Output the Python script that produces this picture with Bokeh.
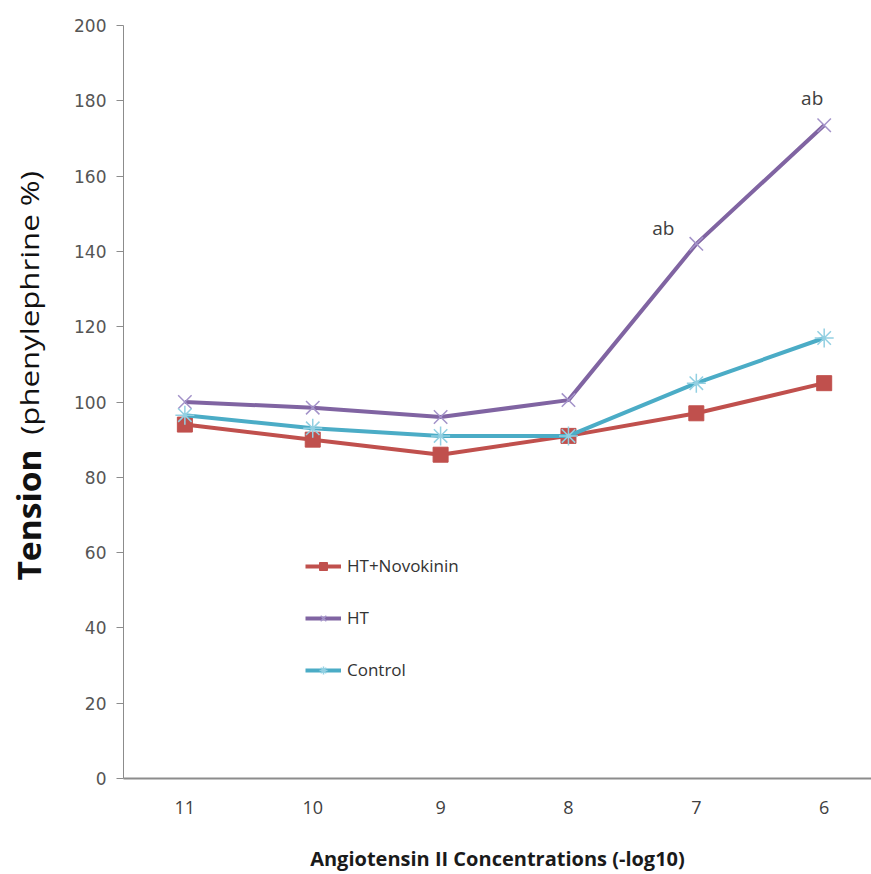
from bokeh.plotting import figure
from bokeh.models import Range1d, FixedTicker, Legend, LegendItem, ColumnDataSource, Div
from bokeh.layouts import row
from bokeh.core.properties import value
from bokeh.embed import file_html
from bokeh.resources import INLINE

concentrations = ["11", "10", "9", "8", "7", "6"]
ht_novokinin = [94, 90, 86, 91, 97, 105]
ht = [100, 98.5, 96, 100.5, 142, 173.5]
control = [96.5, 93, 91, 91, 105, 117]
annot_idx = [4, 5]
annot_text = ["ab", "ab"]
y_title_bold = "Tension"
y_title_rest = "(phenylephrine %)"

xs = list(range(len(concentrations)))
LEFT_W = 58

p = figure(width=871 - LEFT_W, height=874, output_backend="svg", toolbar_location=None,
           x_range=Range1d(-0.48, 5.37), y_range=Range1d(0, 200),
           min_border_left=123 - LEFT_W, min_border_right=0, min_border_top=25, min_border_bottom=94)
p.outline_line_color = None
p.xgrid.grid_line_color = None
p.ygrid.grid_line_color = None
p.background_fill_color = "white"

# axes
p.yaxis.ticker = FixedTicker(ticks=list(range(0, 201, 20)))
p.yaxis.axis_line_color = "#8c8c8c"
p.yaxis.major_tick_line_color = "#8c8c8c"
p.yaxis.major_tick_out = 7
p.yaxis.major_tick_in = 0
p.yaxis.minor_tick_line_color = None
p.yaxis.major_label_text_font = "DejaVu Sans"
p.yaxis.major_label_text_font_size = "17px"
p.yaxis.major_label_text_color = "#555555"
p.yaxis.major_label_standoff = 10

p.xaxis.ticker = FixedTicker(ticks=xs)
p.xaxis.major_label_overrides = {i: c for i, c in zip(xs, concentrations)}
p.xaxis.axis_line_color = "#8c8c8c"
p.xaxis.axis_line_width = 2
p.xaxis.major_tick_line_color = None
p.xaxis.minor_tick_line_color = None
p.xaxis.major_label_text_font = "Open Sans"
p.xaxis.major_label_text_font_size = "18px"
p.xaxis.major_label_text_color = "#404040"
p.xaxis.major_label_standoff = 16
p.xaxis.axis_label = "Angiotensin II Concentrations (-log10)"
p.xaxis.axis_label_text_font = "Open Sans"
p.xaxis.axis_label_text_font_style = "bold"
p.xaxis.axis_label_text_font_size = "20px"
p.xaxis.axis_label_text_color = "#1a1a1a"
p.xaxis.axis_label_standoff = 28

red = "#C0504D"
purple = "#8064A2"
cyan = "#4BACC6"

l1 = p.line(xs, ht_novokinin, line_color=red, line_width=4)
m1 = p.scatter(xs, ht_novokinin, marker="square", size=15, fill_color=red, line_color=red)
l2 = p.line(xs, ht, line_color=purple, line_width=4)
m2 = p.scatter(xs, ht, marker="x", size=19, line_color="#a393c9", line_width=1.5)
l3 = p.line(xs, control, line_color=cyan, line_width=4)
m3 = p.scatter(xs, control, marker="asterisk", size=19, line_color="#93d0e2", line_width=1.5)

# annotations
src = ColumnDataSource(dict(x=[xs[i] for i in annot_idx], y=[ht[i] for i in annot_idx],
                            t=annot_text, xo=[-33, -12], yo=[-16, -27]))
p.text(x="x", y="y", text="t", x_offset="xo", y_offset="yo", source=src,
       text_font=value("Open Sans"), text_font_size="19px", text_color="#404040",
       text_align="center", text_baseline="middle")

legend = Legend(items=[LegendItem(label="HT+Novokinin", renderers=[l1, m1]),
                       LegendItem(label="HT", renderers=[l2, m2]),
                       LegendItem(label="Control", renderers=[l3, m3])],
                location=(182, 97), orientation="vertical",
                glyph_width=36, glyph_height=20, label_height=20, spacing=29,
                padding=0, margin=0, label_standoff=6,
                border_line_color=None, background_fill_alpha=0,
                label_text_font="Open Sans", label_text_font_size="17px",
                label_text_color="#333333")
p.add_layout(legend)

def rotated(text, cx, cy, size, weight, sx):
    return (f'<div style="position:absolute;left:{cx}px;top:{cy}px;'
            f'transform:translate(-50%,-50%) rotate(-90deg) scale({sx},1);'
            'white-space:nowrap;font-family:\'Open Sans\';color:#111111;line-height:1;'
            f'font-size:{size}px;font-weight:{weight};">{text}</div>')

title_html = (
    f'<div style="position:relative;width:{LEFT_W}px;height:874px;">'
    + rotated(y_title_bold, 29, 515, 32, "bold", 1.05)
    + rotated(y_title_rest, 29, 303, 26, "normal", 1.2)
    + '</div>'
)
ydiv = Div(text=title_html, width=LEFT_W, height=874, margin=0)

layout = row(ydiv, p, spacing=0)
open("out.html", "w").write(file_html(layout, INLINE))
